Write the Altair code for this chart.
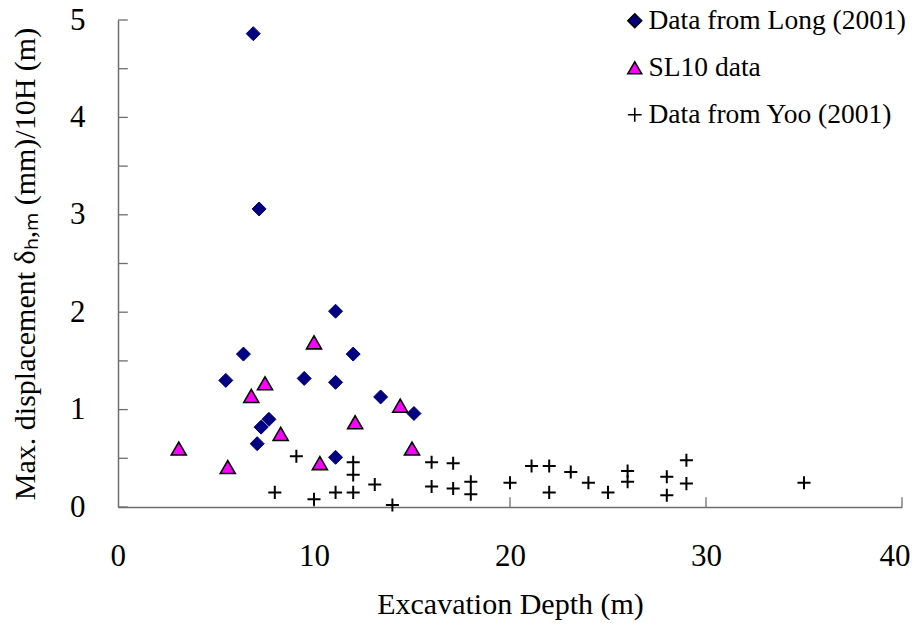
import altair as alt
import pandas as pd

series_names = ["Data from Long (2001)", "SL10 data", "Data from Yoo (2001)"]

long_x = [6.9, 7.2, 11.1, 6.4, 12.0, 5.5, 9.5, 11.1, 13.4, 15.1, 7.7, 7.3, 7.1, 11.1]
long_y = [4.86, 3.06, 2.01, 1.57, 1.57, 1.30, 1.32, 1.28, 1.13, 0.96, 0.90, 0.82, 0.65, 0.51]

sl10_x = [3.1, 5.6, 6.8, 7.5, 8.3, 10.0, 10.3, 12.1, 14.4, 15.0]
sl10_y = [0.60, 0.41, 1.14, 1.27, 0.75, 1.69, 0.45, 0.87, 1.04, 0.60]

yoo_x = [8.0, 9.1, 10.0, 11.1, 12.0, 12.0, 12.0, 13.1, 14.0, 16.0, 16.0, 17.1, 17.1,
         18.0, 18.0, 20.0, 21.1, 22.0, 22.0, 23.1, 24.0, 25.0, 26.0, 26.0, 28.0, 28.0,
         29.0, 29.0, 35.0]
yoo_y = [0.15, 0.52, 0.08, 0.15, 0.46, 0.33, 0.15, 0.23, 0.02, 0.46, 0.21, 0.45, 0.19,
         0.26, 0.13, 0.25, 0.42, 0.42, 0.15, 0.36, 0.25, 0.15, 0.37, 0.26, 0.31, 0.12,
         0.48, 0.24, 0.25]

x_tick_values = [0, 10, 20, 30, 40]
y_label_values = [0, 1, 2, 3, 4, 5]
y_tick_values = [0, 0.5, 1, 1.5, 2, 2.5, 3, 3.5, 4, 4.5, 5]

rows = []
for name, xs, ys in zip(series_names, [long_x, sl10_x, yoo_x], [long_y, sl10_y, yoo_y]):
    for a, b in zip(xs, ys):
        rows.append({"depth": a, "disp": b, "series": name})
df = pd.DataFrame(rows)

ytick_df = pd.DataFrame({"disp": y_tick_values, "depth": [0] * len(y_tick_values),
                         "depth2": [0.5] * len(y_tick_values)})
xtick_df = pd.DataFrame({"depth": x_tick_values[1:], "disp": [0] * 4, "disp2": [0.1] * 4})

FONT = "Liberation Serif"
AXIS_COLOR = "#6e6e6e"
plus_path = "M-1,0L1,0M0,-1L0,1"

xscale = alt.Scale(domain=[0, 40], nice=False, zero=False)
yscale = alt.Scale(domain=[0, 5], nice=False, zero=False)

x_enc = alt.X("depth:Q", scale=xscale, title="Excavation Depth (m)",
              axis=alt.Axis(values=x_tick_values, ticks=False, grid=False, labelPadding=34,
                            titlePadding=18, labelFontSize=31, titleFontSize=30,
                            labelFont=FONT, titleFont=FONT, labelColor="black",
                            titleColor="black", titleFontWeight="normal",
                            domainColor=AXIS_COLOR, domainWidth=1.5,
                            labelFlush=True, labelFlushOffset=8))
y_enc = alt.Y("disp:Q", scale=yscale, title="Max. displacement δₕ,ₘ (mm)/10H (m)",
              axis=alt.Axis(values=y_label_values, ticks=False, grid=False, labelPadding=33,
                            titlePadding=29, labelFontSize=31, titleFontSize=30,
                            labelFont=FONT, titleFont=FONT, labelColor="black",
                            titleColor="black", titleFontWeight="normal",
                            domainColor=AXIS_COLOR, domainWidth=1.5, labelFlush=False))

yticks = alt.Chart(ytick_df).mark_rule(color=AXIS_COLOR, strokeWidth=1.3).encode(
    x=x_enc, x2="depth2:Q", y=y_enc)
xticks = alt.Chart(xtick_df).mark_rule(color=AXIS_COLOR, strokeWidth=1.3).encode(
    x=x_enc, y=y_enc, y2="disp2:Q")

legend = alt.Legend(title=None, orient="none", legendX=503, legendY=-13, padding=0,
                    labelFont=FONT, labelFontSize=27.5, labelColor="black", labelOffset=0,
                    symbolSize=190, symbolStrokeWidth=1.6, symbolStrokeColor="black",
                    rowPadding=18, labelLimit=400)

is_long = "datum.series === 'Data from Long (2001)'"
is_sl10 = "datum.series === 'SL10 data'"
is_yoo = "datum.series === 'Data from Yoo (2001)'"

points = alt.Chart(df).mark_point(filled=True, opacity=1).encode(
    x=x_enc,
    y=y_enc,
    shape=alt.Shape("series:N", legend=legend,
                    scale=alt.Scale(domain=series_names, range=["diamond", "triangle-up", plus_path])),
    color=alt.Color("series:N", legend=legend,
                    scale=alt.Scale(domain=series_names, range=["#000080", "#FF00FF", "#000000"])),
    stroke={"condition": {"test": is_long, "value": "#000080"}, "value": "#000000"},
    strokeWidth={"condition": [{"test": is_long, "value": 1}, {"test": is_sl10, "value": 1.6}], "value": 2},
    size={"condition": [{"test": is_sl10, "value": 225}, {"test": is_yoo, "value": 170}], "value": 196},
)

chart = alt.layer(yticks, xticks, points).properties(
    width=784, height=487,
    autosize=alt.AutoSizeParams(type="none"),
    padding={"left": 110, "top": 12, "right": 10, "bottom": 120},
).configure_view(stroke=None)

chart.save("out.html", embed_options={"renderer": "svg", "actions": False})
